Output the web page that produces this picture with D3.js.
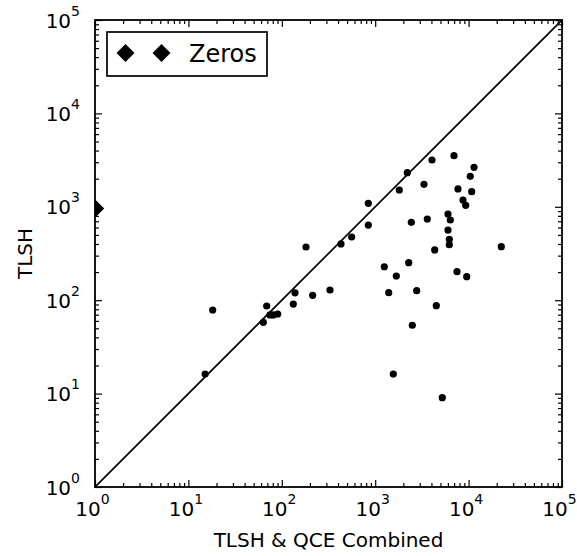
<!DOCTYPE html>
<html>
<head>
<meta charset="utf-8">
<script src="https://cdn.jsdelivr.net/npm/d3@7"></script>
<style>
  body { margin: 0; background: #fff; }
  text { font-family: "DejaVu Sans", sans-serif; fill: #000; }
</style>
</head>
<body>
<div id="chart"></div>
<script>
// combined score (x) vs TLSH score (y)
const combined = [15.1, 18.2, 63.4, 68.9, 74.8, 81.1, 90.4, 132.8, 138.4, 214, 328, 181.6, 430, 560,
  844, 844, 2207, 4055, 6980, 11430, 10420, 1811, 3330, 7697, 10790, 8710, 9310, 6015, 6370,
  3612, 2436, 6015, 6215, 6215, 4335, 22390, 2285, 1251, 1683, 7515, 9545, 2780, 1395, 4510,
  2496, 1563, 5227];
const tlsh = [16.2, 78.5, 58, 86.7, 69.5, 69.5, 71.2, 91, 120, 112.8, 128.6, 371, 400, 475,
  1090, 638, 2318, 3170, 3525, 2649, 2122, 1513, 1741, 1552, 1452, 1182, 1038, 837, 722,
  740, 682, 564, 449, 393, 345, 374, 252, 228, 181.6, 202, 178.5, 126.4, 120.3, 87.4,
  53.9, 16.2, 9.04];

// the "Zeros" entries sit on the x = 1 line
const zerosX = [1, 1];
const zerosY = [960, 960];

const decades = [1, 10, 100, 1000, 10000, 100000];
const exponents = ["0", "1", "2", "3", "4", "5"];

const width = 577;
const height = 556;
const margin = { top: 20, left: 95 };
const size = 467;

const svg = d3.select("#chart")
  .append("svg")
  .attr("width", width)
  .attr("height", height);

const g = svg.append("g")
  .attr("transform", `translate(${margin.left},${margin.top})`);

svg.append("defs")
  .append("clipPath")
  .attr("id", "plot-clip")
  .append("rect")
  .attr("width", size)
  .attr("height", size);

const x = d3.scaleLog().domain([1, 1e5]).range([0, size]);
const y = d3.scaleLog().domain([1, 1e5]).range([size, 0]);

// minor tick values 2..9 in every decade
const minors = [];
decades.slice(0, -1).forEach(d => {
  for (let k = 2; k <= 9; k++) minors.push(d * k);
});

const plot = g.append("g").attr("clip-path", "url(#plot-clip)");

// diagonal y = x
plot.append("line")
  .attr("x1", x(1)).attr("y1", y(1))
  .attr("x2", x(1e5)).attr("y2", y(1e5))
  .attr("stroke", "#000")
  .attr("stroke-width", 1.7);

plot.selectAll("circle.pt")
  .data(combined.map((c, i) => [c, tlsh[i]]))
  .join("circle")
  .attr("class", "pt")
  .attr("cx", d => x(d[0]))
  .attr("cy", d => y(d[1]))
  .attr("r", 3.6)
  .attr("fill", "#000");

const diamond = d3.symbol().type(d3.symbolSquare).size(162);

plot.selectAll("path.zero")
  .data(zerosX.map((v, i) => [v, zerosY[i]]))
  .join("path")
  .attr("class", "zero")
  .attr("d", diamond)
  .attr("transform", d => `translate(${x(d[0])},${y(d[1])}) rotate(45)`)
  .attr("fill", "#000");

// ticks, drawn inward on all four sides
function tickAxis(axisFn, scale, values, len, transform) {
  const a = g.append("g")
    .attr("transform", transform)
    .call(axisFn(scale).tickValues(values).tickSize(len).tickSizeOuter(0).tickFormat(""));
  a.select(".domain").remove();
  a.selectAll("line").attr("stroke", "#000").attr("stroke-width", 1.2);
  return a;
}

tickAxis(d3.axisBottom, x, decades, -7, `translate(0,${size})`);
tickAxis(d3.axisBottom, x, minors, -4, `translate(0,${size})`);
tickAxis(d3.axisTop, x, decades, -7, "translate(0,0)");
tickAxis(d3.axisTop, x, minors, -4, "translate(0,0)");
tickAxis(d3.axisLeft, y, decades, -7, "translate(0,0)");
tickAxis(d3.axisLeft, y, minors, -4, "translate(0,0)");
tickAxis(d3.axisRight, y, decades, -7, `translate(${size},0)`);
tickAxis(d3.axisRight, y, minors, -4, `translate(${size},0)`);

// frame
g.append("rect")
  .attr("width", size)
  .attr("height", size)
  .attr("fill", "none")
  .attr("stroke", "#000")
  .attr("stroke-width", 1.8);

// tick labels like 10^n
function powerLabel(sel) {
  sel.append("tspan").text("10");
  sel.append("tspan")
    .attr("dy", -12)
    .style("font-size", "14px")
    .text(d => exponents[decades.indexOf(d)]);
}

g.selectAll("text.xlab")
  .data(decades)
  .join("text")
  .attr("class", "xlab")
  .attr("x", d => x(d) - 2.5)
  .attr("y", size + 29)
  .attr("text-anchor", "middle")
  .style("font-size", "20px")
  .call(powerLabel);

g.selectAll("text.ylab")
  .data(decades)
  .join("text")
  .attr("class", "ylab")
  .attr("x", -15)
  .attr("y", d => y(d) + 7.5)
  .attr("text-anchor", "end")
  .style("font-size", "20px")
  .call(powerLabel);

// axis titles
svg.append("text")
  .attr("x", margin.left + size / 2)
  .attr("y", 547)
  .attr("text-anchor", "middle")
  .style("font-size", "20px")
  .text("TLSH & QCE Combined");

svg.append("text")
  .attr("transform", `translate(32,${margin.top + size / 2}) rotate(-90)`)
  .attr("text-anchor", "middle")
  .style("font-size", "20px")
  .text("TLSH");

// legend
const legend = svg.append("g");
legend.append("rect")
  .attr("x", 107).attr("y", 32)
  .attr("width", 160).attr("height", 44)
  .attr("fill", "#fff")
  .attr("stroke", "#000")
  .attr("stroke-width", 1.7);
legend.selectAll("path")
  .data([125.5, 161.5])
  .join("path")
  .attr("d", diamond)
  .attr("transform", d => `translate(${d},53) rotate(45)`)
  .attr("fill", "#000");
legend.append("text")
  .attr("x", 189)
  .attr("y", 62)
  .style("font-size", "24px")
  .text("Zeros");
</script>
</body>
</html>
